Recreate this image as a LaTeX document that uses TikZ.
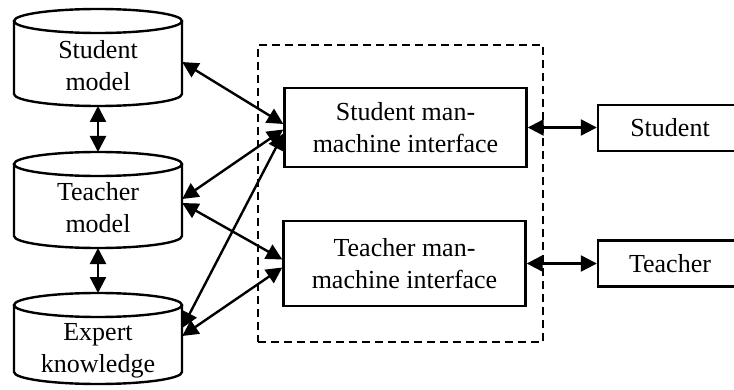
\documentclass[tikz,border=0pt]{standalone}
\usepackage{fontspec}
\setmainfont{Liberation Serif}
\usetikzlibrary{arrows.meta}
\tikzset{
  txt/.style={font=\fontsize{26}{32}\selectfont, align=center, inner sep=0pt},
  cyltext/.style={txt, minimum width=168pt},
  boxnode/.style={txt, draw, line width=2.4pt, minimum width=242pt},
  endbox/.style={txt, draw, line width=2.4pt, minimum width=144pt, minimum height=46pt},
  cylline/.style={line width=2.4pt},
  conn/.style={line width=2.4pt, {Triangle[length=16pt,width=16pt]}-{Triangle[length=16pt,width=16pt]}},
  groupbox/.style={draw, line width=2.6pt, dash pattern=on 8pt off 5pt, minimum width=285pt, minimum height=297pt, inner sep=0pt}
}
\newcommand\drawcyl[4]{%
  \draw[cylline] (#2,#3-12) ellipse [x radius=84pt, y radius=12pt];
  \draw[cylline] (#2-84,#3-12) -- (#2-84,#4+12)
     arc[start angle=180, end angle=360, x radius=84pt, y radius=12pt] -- (#2+84,#3-12);
  \coordinate (#1-top) at (#2,#3);
  \coordinate (#1-bot) at (#2,#4);
}
\begin{document}
\begin{tikzpicture}[x=1pt,y=1pt]
\useasboundingbox (0,0) rectangle (734,389);
\clip (0,0) rectangle (734,389);
% cylinders
\drawcyl{sm}{98}{380}{283}
\drawcyl{tm}{98}{237}{141}
\drawcyl{ek}{98}{96}{5}
\node[cyltext] (sm) at (98,323) {Student\\model};
\node[cyltext] (tm) at (98,181) {Teacher\\model};
\node[cyltext] (ek) at (98,38) {Expert\\knowledge};
% dashed group
\node[groupbox] (grp) at (400.5,195.5) {};
% interfaces
\node[boxnode, minimum height=79pt] (smmi) at (405.5,261.5) {Student man-\\machine interface};
\node[boxnode, minimum height=85pt] (tmmi) at (404.5,125.5) {Teacher man-\\machine interface};
% users
\node[endbox] (st) at (670,261) {Student};
\node[endbox] (te) at (670,125.5) {Teacher};
% connectors
\draw[conn] (sm-bot) -- (tm-top);
\draw[conn] (tm-bot) -- (ek-top);
\draw[conn] ([yshift=4pt]sm.east) -- ([yshift=3.5pt]smmi.west);
\draw[conn] ([yshift=9pt]tm.east) -- ([yshift=-2pt]smmi.west);
\draw[conn] ([yshift=5pt]tm.east) -- ([yshift=4pt]tmmi.west);
\draw[conn] ([yshift=23pt]ek.east) -- ([yshift=-6pt]smmi.west);
\draw[conn] ([yshift=15pt]ek.east) -- ([yshift=-4pt]tmmi.west);
\draw[conn] (smmi.east) -- (smmi.east -| st.west);
\draw[conn] (tmmi.east) -- (tmmi.east -| te.west);
\end{tikzpicture}
\end{document}
